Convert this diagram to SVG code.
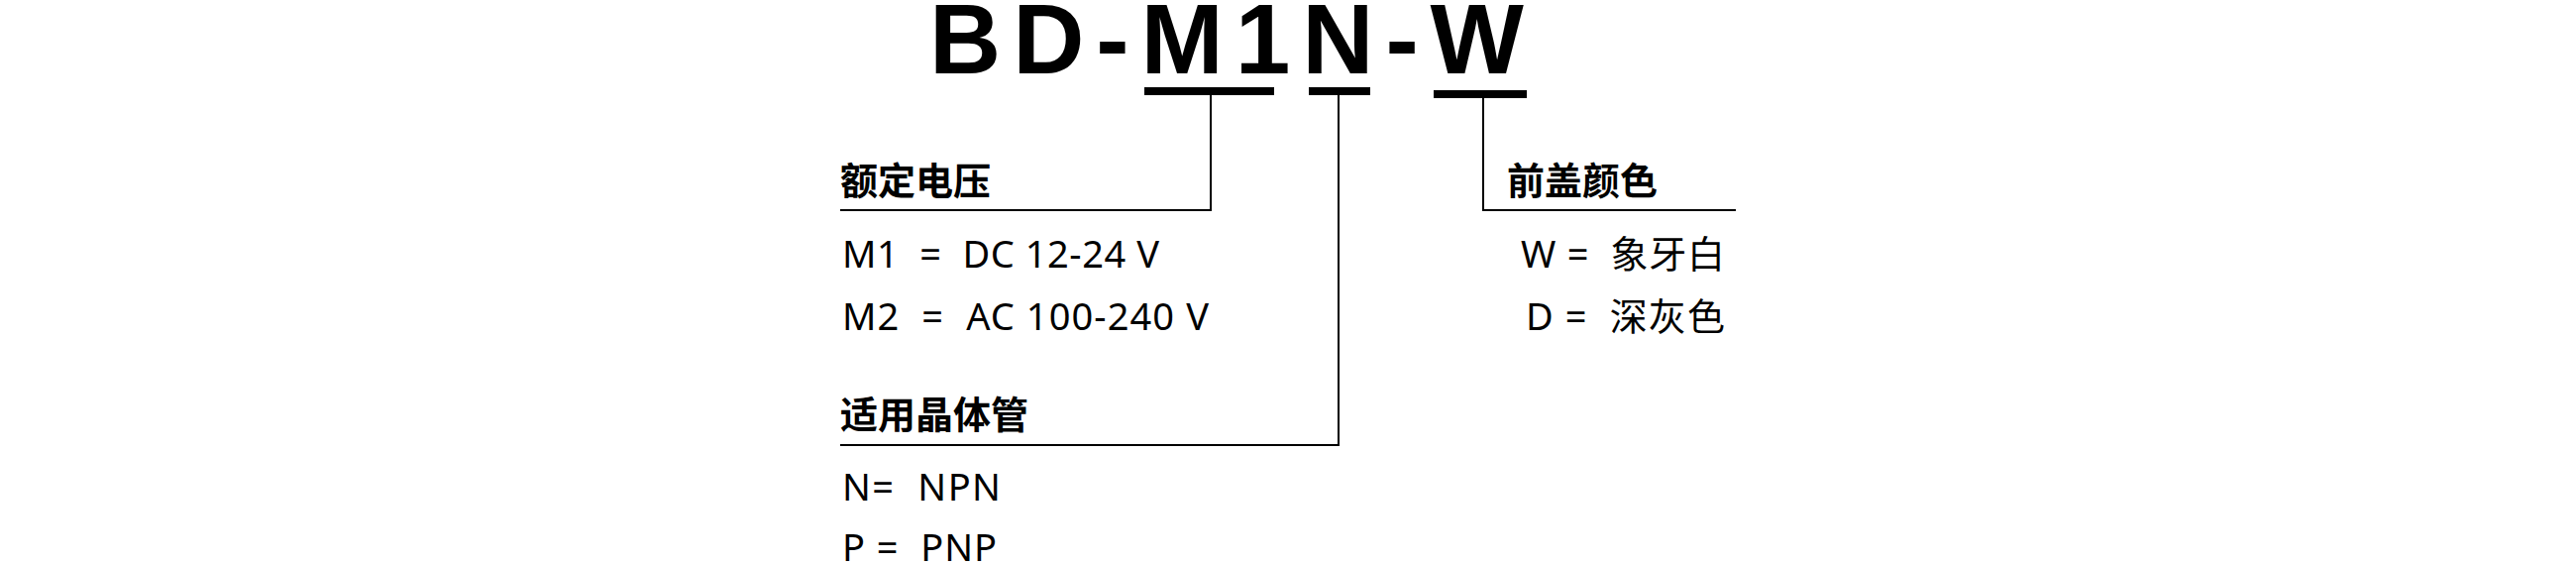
<svg xmlns="http://www.w3.org/2000/svg" width="2600" height="570" viewBox="0 0 2600 570">
<style>
.t{font-family:"Liberation Sans",Arial,sans-serif;font-weight:bold;font-size:100px;fill:#000}
.h{font-family:"Noto Sans CJK SC","Noto Sans",sans-serif;font-weight:bold;font-size:38px;fill:#000}
.v{font-family:"Noto Sans","Noto Sans CJK SC",sans-serif;font-size:38px;fill:#000;white-space:pre}
.c{fill:none;stroke:#000;stroke-width:2}
</style>
<rect width="2600" height="570" fill="#fff"/>
<g id="title">
<text class="t" x="938" y="74" textLength="600" lengthAdjust="spacing">BD-M1N-W</text>
<rect x="1155" y="88" width="131" height="8"/>
<rect x="1321" y="88" width="62" height="8"/>
<rect x="1447" y="91" width="94" height="8"/>
</g>
<g id="connectors">
<polyline class="c" points="1222,96 1222,212 848,212"/>
<polyline class="c" points="1351,96 1351,449 848,449"/>
<polyline class="c" points="1497,99 1497,212 1752,212"/>
</g>
<g id="voltage">
<text class="h" x="848" y="196">额定电压</text>
<text class="v" x="850" y="270" textLength="320" lengthAdjust="spacing">M1  =  DC 12-24 V</text>
<text class="v" x="850" y="333" textLength="370" lengthAdjust="spacing">M2  =  AC 100-240 V</text>
</g>
<g id="transistor">
<text class="h" x="848" y="432">适用晶体管</text>
<text class="v" x="850" y="505" textLength="160" lengthAdjust="spacing">N=  NPN</text>
<text class="v" x="850" y="566" textLength="156" lengthAdjust="spacing">P =  PNP</text>
</g>
<g id="color">
<text class="h" x="1521" y="196">前盖颜色</text>
<text class="v" x="1535" y="270" textLength="206" lengthAdjust="spacing">W =  象牙白</text>
<text class="v" x="1540" y="333" textLength="201" lengthAdjust="spacing">D =  深灰色</text>
</g>
</svg>
